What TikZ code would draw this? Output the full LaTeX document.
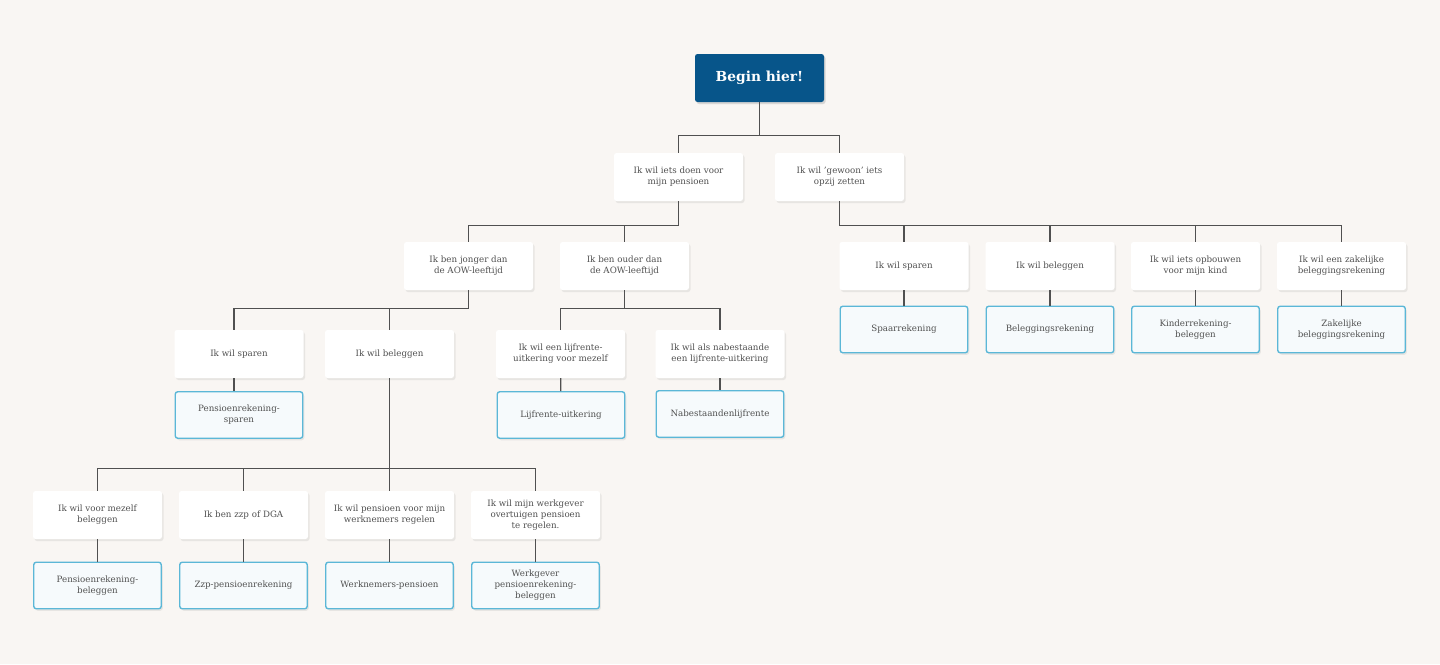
\documentclass[tikz,border=0pt]{standalone}
\usepackage{fontspec}
\setmainfont{DejaVu Serif}
\usetikzlibrary{shadows}
\definecolor{achter}{HTML}{F9F6F3}
\definecolor{lijn}{HTML}{505050}
\definecolor{tekst}{HTML}{505050}
\definecolor{donkerblauw}{HTML}{07558A}
\definecolor{lichtblauw}{HTML}{5BB7D7}
\definecolor{ijsblauw}{HTML}{F6FAFC}
\tikzset{
  kaart/.style={rounded corners=2.5pt,minimum width=129pt,minimum height=48pt,inner sep=2pt,
    align=center,text=tekst,font=\fontsize{8.7}{11}\selectfont,
    drop shadow={shadow xshift=1.5pt,shadow yshift=-2pt,opacity=0.14}},
  vraag/.style={kaart,fill=white},
  antwoord/.style={kaart,fill=ijsblauw,draw=lichtblauw,line width=1.4pt,
    minimum width=127.5pt,minimum height=46.5pt},
  startkaart/.style={kaart,fill=donkerblauw,text=white,font=\fontsize{13.8}{15}\bfseries}
}
\begin{document}
\begin{tikzpicture}[x=1pt,y=-1pt]
                            \useasboundingbox[fill=achter] (0,0) rectangle (1440,664);
                            % vragen
                            \begin{scope}[every node/.style={vraag}]
                                \node[startkaart] (begin) at (759.5,78) {Begin hier!};
                                \node (doen) at (678.5,177) {Ik wil iets doen voor\\mijn pensioen};
                                \node (gewoon) at (839.5,177) {Ik wil 'gewoon' iets\\opzij zetten};
                                \node (jonger) at (468.5,266) {Ik ben jonger dan\\de AOW-leeftijd};
                                \node (ouder) at (624.5,266) {Ik ben ouder dan\\de AOW-leeftijd};
                                \node (sparenR) at (904,266) {Ik wil sparen};
                                \node (beleggenR) at (1050,266) {Ik wil beleggen};
                                \node (kind) at (1195.5,266) {Ik wil iets opbouwen\\voor mijn kind};
                                \node (zakelijk) at (1341.5,266) {Ik wil een zakelijke\\beleggingsrekening};
                                \node (sparenL) at (239,354) {Ik wil sparen};
                                \node (beleggenL) at (389.5,354) {Ik wil beleggen};
                                \node (mezelf) at (560.5,354) {Ik wil een lijfrente-\\uitkering voor mezelf};
                                \node (nabestaande) at (720,354) {Ik wil als nabestaande\\een lijfrente-uitkering};
                                \node (zelfbel) at (97.5,515) {Ik wil voor mezelf\\beleggen};
                                \node (zzp) at (243.5,515) {Ik ben zzp of DGA};
                                \node (werknemers) at (389.5,515) {Ik wil pensioen voor mijn\\werknemers regelen};
                                \node (werkgever) at (535.5,515) {Ik wil mijn werkgever\\overtuigen pensioen\\te regelen.};
                            \end{scope}
                            % producten
                            \begin{scope}[every node/.style={antwoord}]
                                \node (spaarrek) at (904,329.5) {Spaarrekening};
                                \node (belrek) at (1050,329.5) {Beleggingsrekening};
                                \node (kinderrek) at (1195.5,329.5) {Kinderrekening-\\beleggen};
                                \node (zakrek) at (1341.5,329.5) {Zakelijke\\beleggingsrekening};
                                \node (pensspaar) at (239,415) {Pensioenrekening-\\sparen};
                                \node (lijfuit) at (561,415) {Lijfrente-uitkering};
                                \node (nablijf) at (720,414) {Nabestaandenlijfrente};
                                \node (pensbel) at (97.5,585.5) {Pensioenrekening-\\beleggen};
                                \node (zzprek) at (243.5,585.5) {Zzp-pensioenrekening};
                                \node (wnpens) at (389.5,585.5) {Werknemers-pensioen};
                                \node (wgpens) at (535.5,585.5) {Werkgever\\pensioenrekening-\\beleggen};
                            \end{scope}
                            % lijnen
                            \begin{scope}[draw=lijn,line width=1.3pt]
                                \draw (begin.south) -- ++(0,33) -| (doen.north);
                                \draw (begin.south) -- ++(0,33) -| (gewoon.north);
                                \draw (doen.south) -- ++(0,24) -| (jonger.north);
                                \draw (doen.south) -- ++(0,24) -| (ouder.north);
                                \foreach \n in {sparenR,beleggenR,kind,zakelijk}
                                    \draw (gewoon.south) -- ++(0,24) -| (\n.north);
                                \draw (jonger.south) -- ++(0,18) -| ([xshift=-5pt]sparenL.north);
                                \draw (jonger.south) -- ++(0,18) -| (beleggenL.north);
                                \draw (ouder.south) -- ++(0,18) -| (mezelf.north);
                                \draw (ouder.south) -- ++(0,18) -| (nabestaande.north);
                                \foreach \n in {zelfbel,zzp,werknemers,werkgever}
                                    \draw (beleggenL.south) -- ++(0,90) -| (\n.north);
                                \draw ([xshift=-5pt]sparenL.south) -- ([xshift=-5pt]pensspaar.north);
                                \draw (sparenR) edge (spaarrek) (beleggenR) edge (belrek)
                                      (kind) edge (kinderrek) (zakelijk) edge (zakrek)
                                      (mezelf) edge (lijfuit) (nabestaande) edge (nablijf)
                                      (zelfbel) edge (pensbel) (zzp) edge (zzprek)
                                      (werknemers) edge (wnpens) (werkgever) edge (wgpens);
                            \end{scope}
                        \end{tikzpicture}
\end{document}
